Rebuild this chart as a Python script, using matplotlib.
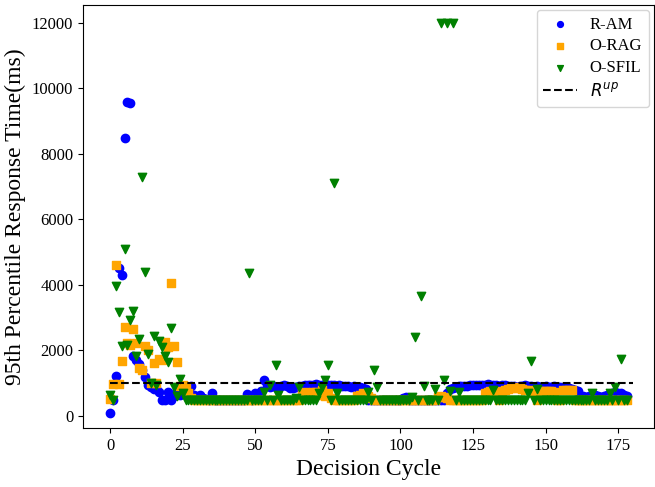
import matplotlib
matplotlib.use("Agg")
import matplotlib.pyplot as plt

plt.rcParams['font.family'] = ['Liberation Serif', 'DejaVu Serif']
plt.rcParams['mathtext.fontset'] = 'dejavusans'

cycles = list(range(179))

r_am = [
    100, 500, 1220, 4520, 4300, 8500, 9600, 9570, 1830, 1700,
    1590, 1400, 1190, 950, 890, 820, 850, 730, 490, 490,
    730, 490, 600, 790, 650, 700, 800, 700, 920, 650,
    580, 640, 550, 520, 500, 700, 500, 500, 500, 500,
    500, 500, 500, 500, 500, 500, 500, 670, 610, 500,
    700, 650, 750, 1100, 950, 880, 900, 870, 850, 900,
    930, 900, 860, 850, 870, 900, 920, 940, 950, 930,
    950, 960, 940, 950, 960, 940, 930, 950, 920, 930,
    900, 920, 900, 880, 900, 870, 880, 850, 820, 500,
    500, 500, 500, 500, 500, 500, 500, 500, 500, 500,
    500, 550, 590, 500, 500, 500, 500, 500, 500, 500,
    500, 500, 500, 500, 500, 500, 700, 820, 850, 880,
    900, 910, 920, 900, 930, 940, 930, 950, 940, 950,
    960, 940, 950, 930, 920, 940, 930, 900, 920, 910,
    890, 900, 920, 930, 910, 900, 880, 900, 870, 880,
    900, 890, 880, 900, 870, 880, 860, 870, 850, 820,
    800, 750, 600, 620, 580, 600, 620, 650, 600, 580,
    620, 640, 680, 700, 720, 690, 700, 650, 600,
]

o_rag = [
    520, 980, 4610, 980, 1680, 2700, 2230, 2170, 2650, 2230,
    1460, 1400, 2140, 2020, 1000, 1620, 1000, 1740, 1700, 2260,
    2100, 4050, 2140, 1650, 900, 950, 850, 700, 550, 500,
    500, 500, 500, 500, 500, 500, 500, 500, 500, 500,
    500, 500, 500, 500, 500, 500, 500, 500, 500, 500,
    500, 500, 500, 500, 500, 500, 500, 500, 500, 500,
    500, 500, 500, 500, 500, 500, 700, 720, 680, 700,
    740, 720, 650, 800, 600, 700, 550, 500, 500, 500,
    500, 500, 500, 500, 500, 600, 650, 700, 650, 600,
    550, 500, 500, 500, 500, 500, 500, 500, 500, 500,
    500, 500, 500, 500, 500, 500, 500, 500, 500, 500,
    500, 500, 500, 580, 600, 580, 550, 500, 500, 500,
    500, 500, 500, 500, 500, 500, 500, 500, 500, 700,
    730, 750, 720, 700, 500, 750, 800, 820, 850, 880,
    860, 850, 820, 800, 780, 750, 720, 500, 760, 760,
    750, 760, 760, 740, 500, 500, 790, 780, 790, 780,
    500, 500, 500, 500, 500, 500, 500, 500, 500, 500,
    500, 500, 500, 500, 500, 500, 500, 500, 500,
]

o_sfil = [
    640, 490, 3970, 3180, 2140, 5100, 2170, 2930, 3200, 1830,
    2350, 7300, 4400, 1890, 1000, 2440, 950, 2290, 2110, 1830,
    1650, 2690, 890, 600, 1130, 700, 500, 500, 500, 500,
    500, 500, 500, 500, 500, 500, 500, 500, 500, 500,
    500, 500, 500, 500, 500, 500, 500, 500, 4370, 500,
    500, 500, 500, 730, 500, 950, 500, 1560, 640, 500,
    500, 500, 500, 500, 550, 890, 500, 500, 500, 500,
    500, 500, 700, 890, 1100, 1560, 490, 7110, 700, 500,
    500, 500, 500, 500, 500, 500, 500, 500, 500, 730,
    500, 1400, 890, 500, 500, 500, 500, 500, 500, 500,
    500, 500, 500, 500, 590, 2410, 500, 3660, 920, 500,
    500, 500, 820, 500, 12000, 1100, 12000, 760, 12000, 500,
    730, 500, 500, 500, 500, 500, 500, 500, 500, 500,
    500, 500, 790, 500, 500, 500, 500, 500, 500, 500,
    500, 500, 500, 500, 700, 1680, 500, 820, 500, 500,
    500, 500, 500, 500, 500, 500, 500, 500, 500, 500,
    500, 500, 500, 500, 500, 500, 700, 500, 500, 500,
    500, 500, 700, 500, 890, 500, 1740, 500, 500,
]

r_up = 1000
r_up_x = [0, 180]

fig = plt.figure(figsize=(6.55, 4.87), dpi=100)
ax = fig.add_axes([83/655, 1-428/487, (654-83)/655, (428-5)/487])

ax.scatter(cycles, r_am, color='blue', marker='o', s=36, label='R-AM', zorder=2)
ax.scatter(cycles, o_rag, color='orange', marker='s', s=36, label='O-RAG', zorder=3)
ax.scatter(cycles, o_sfil, color='green', marker='v', s=36, label='O-SFIL', zorder=4)
ax.plot(r_up_x, [r_up, r_up], 'k--', lw=1.5, label=r'$R^{up}$', zorder=5)

ax.set_xlim(-9.3, 187.3)
ax.set_ylim(-370, 12550)
ax.set_xticks([0, 25, 50, 75, 100, 125, 150, 175])
ax.set_yticks([0, 2000, 4000, 6000, 8000, 10000, 12000])
ax.tick_params(labelsize=12)
ax.set_xlabel('Decision Cycle', fontsize=17)
ax.set_ylabel('95th Percentile Response Time(ms)', fontsize=17)

ax.legend(loc='upper right', fontsize=12, markerscale=0.7,
          labelspacing=0.35, borderaxespad=0.3)

fig.savefig('out.png', dpi=100)
